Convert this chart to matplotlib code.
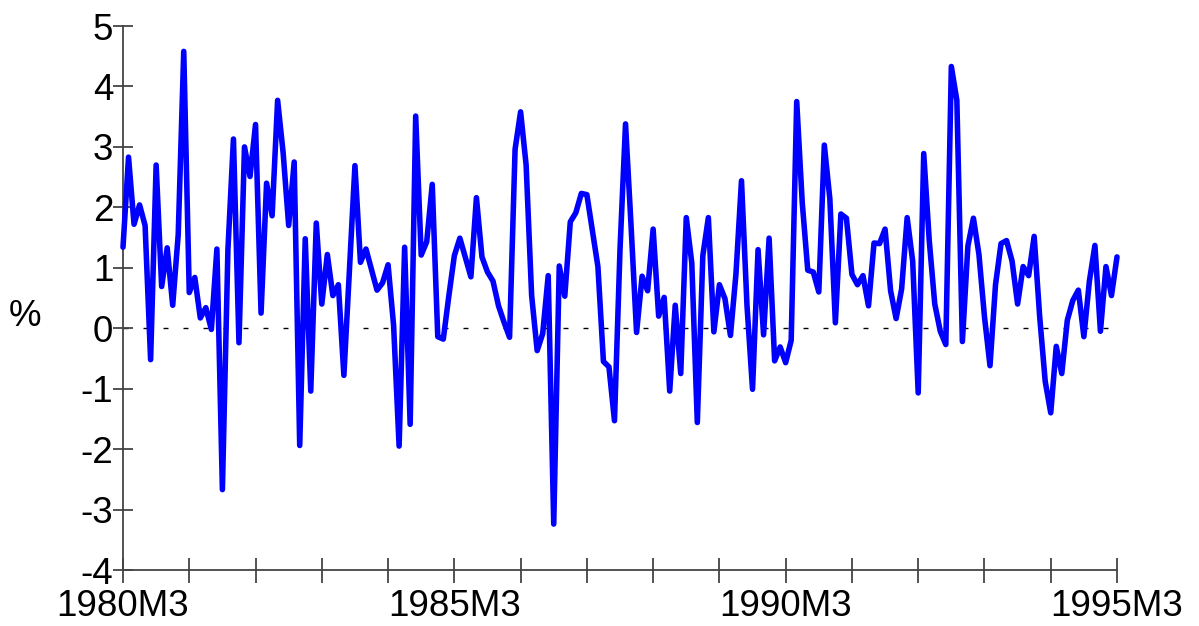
import matplotlib
matplotlib.use("Agg")
import matplotlib.pyplot as plt
import numpy as np

plt.rcParams['font.family'] = ['Liberation Sans', 'DejaVu Sans']

# Monthly values, 1980M3 .. 1995M3 (percent)
values = [
    1.34, 2.83, 1.72, 2.04, 1.70, -0.52, 2.70, 0.69, 1.33, 0.38,   # 1980M3-
    1.55, 4.58, 0.59, 0.84, 0.17, 0.34, -0.02, 1.31, -2.67, 1.30,
    3.13, -0.24, 3.00, 2.51, 3.37, 0.25, 2.40, 1.86, 3.77, 2.90,
    1.70, 2.75, -1.94, 1.48, -1.04, 1.74, 0.40, 1.22, 0.54, 0.72,
    -0.78, 0.95, 2.69, 1.09, 1.31, 0.97, 0.63, 0.75, 1.05, 0.05,
    -1.95, 1.34, -1.59, 3.51, 1.21, 1.43, 2.38, -0.14, -0.18, 0.53,
    1.20, 1.49, 1.17, 0.85, 2.16, 1.18, 0.93, 0.78, 0.37, 0.10,
    -0.15, 2.96, 3.58, 2.70, 0.54, -0.37, -0.09, 0.87, -3.24, 1.03,
    0.53, 1.76, 1.91, 2.23, 2.21, 1.61, 1.02, -0.55, -0.64, -1.53,
    1.30, 3.38, 1.70, -0.07, 0.86, 0.62, 1.64, 0.20, 0.51, -1.04,
    0.38, -0.75, 1.83, 1.08, -1.56, 1.20, 1.83, -0.06, 0.72, 0.49,
    -0.12, 0.90, 2.44, 0.37, -1.01, 1.30, -0.11, 1.49, -0.54, -0.31,
    -0.57, -0.20, 3.75, 2.08, 0.96, 0.93, 0.60, 3.03, 2.14, 0.09,
    1.89, 1.82, 0.89, 0.72, 0.87, 0.37, 1.41, 1.40, 1.64, 0.62,
    0.16, 0.65, 1.83, 1.11, -1.07, 2.89, 1.45, 0.40, -0.05, -0.27,
    4.33, 3.77, -0.22, 1.36, 1.82, 1.22, 0.19, -0.62, 0.72, 1.40,
    1.45, 1.11, 0.40, 1.02, 0.87, 1.52, 0.19, -0.88, -1.40, -0.30,
    -0.75, 0.13, 0.46, 0.63, -0.14, 0.78, 1.37, -0.05, 1.02, 0.54,
    1.18,
]
x_tick_labels = ["1980M3", "1985M3", "1990M3", "1995M3"]
y_ticks = [5, 4, 3, 2, 1, 0, -1, -2, -3, -4]
y_label = "%"

W, H = 1199, 626
fig = plt.figure(figsize=(W / 100, H / 100), dpi=100)
ax = fig.add_axes([123 / W, (H - 570) / H, (1117 - 123) / W, (570 - 26) / H])

months = np.arange(len(values))
ax.plot([0, len(values) - 1], [0, 0], color='black', lw=1.0,
        dashes=(3.6, 10.8), dash_capstyle='butt', zorder=1)
ax.plot(months, values, color='#0000ff', lw=4.0, solid_joinstyle='round',
        solid_capstyle='round', zorder=3, clip_on=False)

ax.set_xlim(0, len(values) - 1)
ax.set_ylim(-4, 5)

major = np.arange(0, len(values), 60)
minor = np.arange(0, len(values), 12)
ax.set_xticks(major)
ax.set_xticklabels(x_tick_labels)
ax.set_xticks(minor, minor=True)
ax.set_yticks(y_ticks)
ax.set_yticklabels([str(v) for v in y_ticks])

spine_col = '#444444'
for s in ['top', 'right']:
    ax.spines[s].set_visible(False)
for s in ['left', 'bottom']:
    ax.spines[s].set_color(spine_col)
    ax.spines[s].set_linewidth(1.3)

ax.tick_params(axis='x', which='both', direction='inout', length=18, width=1.3,
               color=spine_col, labelsize=26.5, pad=4.5)
ax.tick_params(axis='y', which='both', direction='inout', length=14, width=1.3,
               color=spine_col, labelsize=26.5, pad=0)

fig.text(25 / W, 1 - 317 / H, y_label, fontsize=26.5, ha='center', va='center')

fig.savefig("out.png", dpi=100)
